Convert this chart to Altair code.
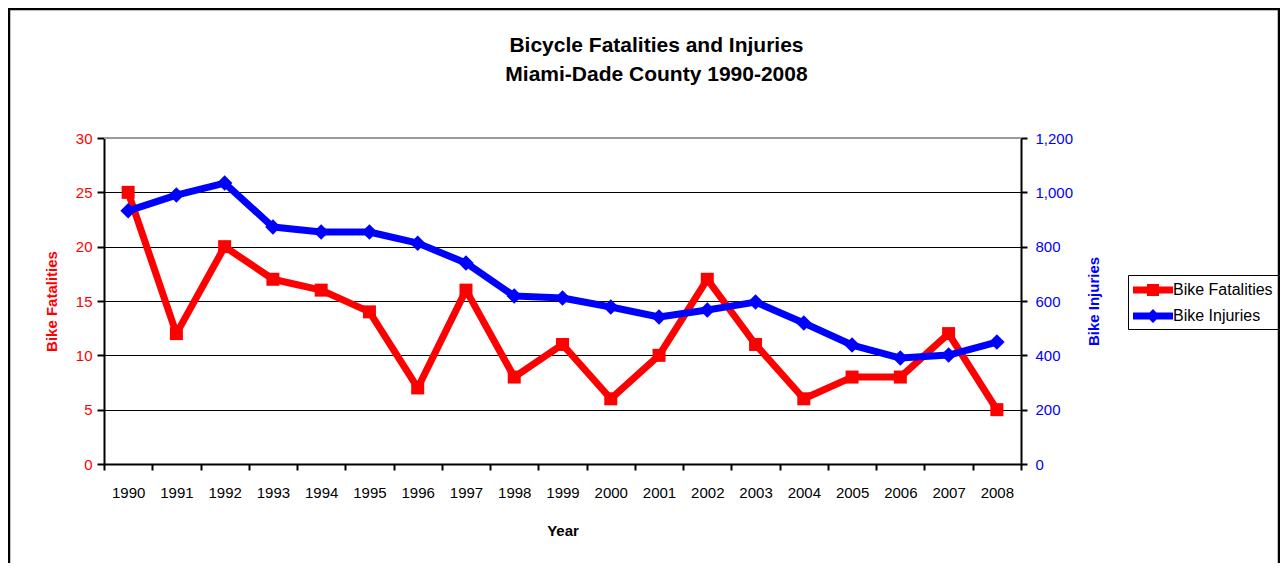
import altair as alt
import pandas as pd

# ---- data ----
years = ["1990", "1991", "1992", "1993", "1994", "1995", "1996", "1997", "1998", "1999",
         "2000", "2001", "2002", "2003", "2004", "2005", "2006", "2007", "2008"]
fatalities = [25, 12, 20, 17, 16, 14, 7, 16, 8, 11, 6, 10, 17, 11, 6, 8, 8, 12, 5]
injuries = [932, 990, 1034, 872, 854, 854, 813, 740, 618, 611, 578, 541, 567, 596, 519, 438, 390, 401, 449]
series_names = ["Bike Fatalities", "Bike Injuries"]
fat_ticks = [0, 5, 10, 15, 20, 25, 30]
inj_ticks = [0, 200, 400, 600, 800, 1000, 1200]
title_lines = ["Bicycle Fatalities and Injuries", "Miami-Dade County 1990-2008"]

df = pd.DataFrame({"year": years, "fatalities": fatalities, "injuries": injuries})
legend_df = pd.DataFrame({"series": series_names})
frame_df = pd.DataFrame({"frame": ["border"]})

FONT = "Liberation Sans, Arial, sans-serif"
RED = "#FF0000"
BLUE = "#0000FF"
W, H = 917, 326

x_enc = alt.X(
    "year:O",
    bandPosition=0.5,
    scale=alt.Scale(type="band", paddingInner=0, paddingOuter=0),
    axis=alt.Axis(
        title="Year", labelAngle=0, tickBand="extent", grid=False,
        domainColor="black", domainWidth=2, tickColor="black", tickWidth=2, tickSize=6,
        labelFont=FONT, labelFontSize=15, labelColor="black", labelPadding=15,
        titleFont=FONT, titleFontSize=15, titleFontWeight="bold", titleColor="black",
        titleY=66, titleBaseline="middle",
    ),
)

left_axis = alt.Axis(
    orient="left", values=fat_ticks, title="Bike Fatalities", grid=True,
    gridColor="black", gridWidth=1, gridOpacity=1,
    domainColor="black", domainWidth=2, tickColor="black", tickWidth=2, tickSize=7,
    labelFont=FONT, labelFontSize=15, labelColor=RED, labelPadding=5,
    titleFont=FONT, titleFontSize=15, titleFontWeight="bold", titleColor=RED,
    titleX=-53, titleY=H / 2, titleBaseline="middle", titleAngle=270,
)
right_axis = alt.Axis(
    orient="right", values=inj_ticks, format=",d", title="Bike Injuries", grid=False,
    domainColor="black", domainWidth=2, tickColor="black", tickWidth=2, tickSize=6,
    labelFont=FONT, labelFontSize=15, labelColor=BLUE, labelPadding=8,
    titleFont=FONT, titleFontSize=15, titleFontWeight="bold", titleColor=BLUE,
    titleX=72, titleY=H / 2, titleBaseline="middle", titleAngle=270,
)

y_fat = alt.Y("fatalities:Q", scale=alt.Scale(domain=[0, 30]), axis=left_axis)
y_inj = alt.Y("injuries:Q", scale=alt.Scale(domain=[0, 1200]), axis=right_axis)

base = alt.Chart(df)
fat_line = base.mark_line(color=RED, strokeWidth=7, strokeJoin="round").encode(x=x_enc, y=y_fat)
fat_pts = base.mark_point(shape="square", filled=True, size=169, color=RED, opacity=1).encode(x=x_enc, y=y_fat)
top_rule = alt.Chart(frame_df).mark_rule(color="#999999", strokeWidth=2).encode(
    y=alt.Y(datum=fat_ticks[-1], scale=alt.Scale(domain=[0, 30]), axis=left_axis)
)
left = alt.layer(fat_line, fat_pts, top_rule)

inj_line = base.mark_line(color=BLUE, strokeWidth=7, strokeJoin="round").encode(x=x_enc, y=y_inj)
inj_pts = base.mark_point(shape="diamond", filled=True, size=240, color=BLUE, opacity=1).encode(x=x_enc, y=y_inj)
right = alt.layer(inj_line, inj_pts)

# legend symbols: a thick line with the series marker on it
sym_red = "M-1,-0.35H3V0.35H-1Z M0.4,-0.6H1.6V0.6H0.4Z"
sym_blue = "M-1,-0.35H3V0.35H-1Z M1,-0.7L1.7,0L1,0.7L0.3,0Z"
leg = alt.Legend(
    title=None, orient="none", legendX=1024, legendY=137,
    strokeColor="black", padding=5, symbolSize=400,
    labelFont=FONT, labelFontSize=16, labelColor="black", labelOffset=20,
    rowPadding=8, symbolStrokeWidth=0, symbolOpacity=1,
)
legend_layer = alt.Chart(legend_df).mark_point(filled=True, opacity=1, size=400).encode(
    color=alt.Color("series:N", scale=alt.Scale(domain=series_names, range=[RED, BLUE]), legend=leg),
    shape=alt.Shape("series:N", scale=alt.Scale(domain=series_names, range=[sym_red, sym_blue]), legend=leg),
).transform_filter("false")

# chart title drawn as text (two lines)
title_layer = alt.Chart(frame_df).mark_text(
    text=title_lines, font=FONT, fontSize=21, fontWeight="bold", color="black",
    align="center", baseline="alphabetic", lineHeight=29,
).encode(x=alt.value(W / 2 + 94), y=alt.value(-86))

# outer chart frame (left, top, right edges)
fr = alt.Chart(frame_df)
frame_top = fr.mark_rule(color="black", strokeWidth=2.5).encode(
    x=alt.value(-95), x2=alt.value(1175), y=alt.value(-129))
frame_left = fr.mark_rule(color="black", strokeWidth=2.5).encode(
    x=alt.value(-95), y=alt.value(-130), y2=alt.value(425))
frame_right = fr.mark_rule(color="black", strokeWidth=2.5).encode(
    x=alt.value(1175), y=alt.value(-130), y2=alt.value(425))

chart = alt.layer(
    left, right, legend_layer, title_layer, frame_top, frame_left, frame_right
).resolve_scale(
    y="independent"
).properties(
    width=W, height=H,
    padding={"left": 96, "top": 130, "right": 259, "bottom": 99},
    autosize=alt.AutoSizeParams(type="none"),
).configure_view(stroke=None).configure_legend(strokeWidth=2).configure(background="white")

chart.save("out.html", embed_options={"renderer": "svg", "actions": False})
